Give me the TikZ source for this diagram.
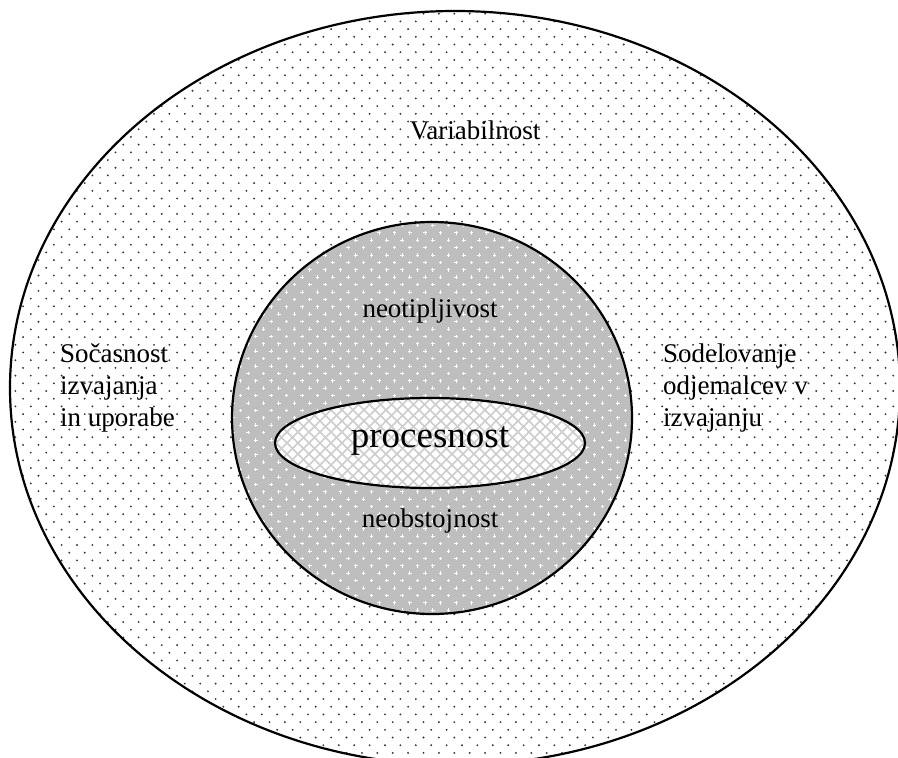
\documentclass[tikz,border=0pt]{standalone}
\usepackage{fontspec}
\setmainfont{Liberation Serif}
\definecolor{midgrey}{RGB}{190,190,190}
\definecolor{dotgrey}{RGB}{55,55,55}
\definecolor{hatchgrey}{RGB}{205,205,205}
\begin{document}
\begin{tikzpicture}[x=1pt,y=-1pt,
  outline/.style={draw=black,line width=2.2pt},
  lbl/.style={font=\fontsize{27}{32}\selectfont, inner sep=0pt},
  big/.style={font=\fontsize{37}{40}\selectfont, inner sep=0pt}]
\useasboundingbox (0,0) rectangle (898,758);
% outer ellipse with dots
\begin{scope}
  \clip (455,388) ellipse [x radius=445, y radius=377];
  \fill[white] (0,0) rectangle (898,770);
  \foreach \j in {0,...,100}{
    \foreach \i in {0,...,59}{
      \fill[dotgrey] ({\i*15.4+mod(\j,2)*7.7},{\j*7.7+6}) circle (1.05);
    }
  }
\end{scope}
\draw[outline] (455,388) ellipse [x radius=445, y radius=377];
% middle ellipse
\fill[midgrey] (432,418) ellipse [x radius=200, y radius=196];
\begin{scope}
  \clip (432,418) ellipse [x radius=200, y radius=196];
  \foreach \j in {0,...,54}{
    \foreach \i in {0,...,28}{
      \draw[white,line width=1pt] ({225+\i*15.4+mod(\j,2)*7.7-1.8},{\j*7.4+218}) -- ++(3.6,0)
        ({225+\i*15.4+mod(\j,2)*7.7},{\j*7.4+218-1.8}) -- ++(0,3.6);
    }
  }
\end{scope}
\draw[outline] (432,418) ellipse [x radius=200, y radius=196];
% inner ellipse
\fill[white] (430,443) ellipse [x radius=155, y radius=45];
\begin{scope}
  \clip (430,443) ellipse [x radius=155, y radius=45];
  \foreach \k in {-25,...,25}{
    \draw[hatchgrey,line width=1.6pt] ({430+\k*11-60},383) -- ++(120,120);
    \draw[hatchgrey,line width=1.6pt] ({430+\k*11+60},383) -- ++(-120,120);
  }
\end{scope}
\draw[outline] (430,443) ellipse [x radius=155, y radius=45];
% labels
\node[lbl] (var) at (475,130) {Variabilnost};
\node[lbl] (neot) at (430,311) {neotipljivost};
\node[big] (proc) at (430,441) {procesnost};
\node[lbl] (neob) at (430,521) {neobstojnost};
\node[lbl,align=left,anchor=north west] (left) at (60,344) {Sočasnost\\izvajanja\\in uporabe};
\node[lbl,align=left,anchor=north west] (right) at (663,344) {Sodelovanje\\odjemalcev v\\izvajanju};
\end{tikzpicture}
\end{document}
